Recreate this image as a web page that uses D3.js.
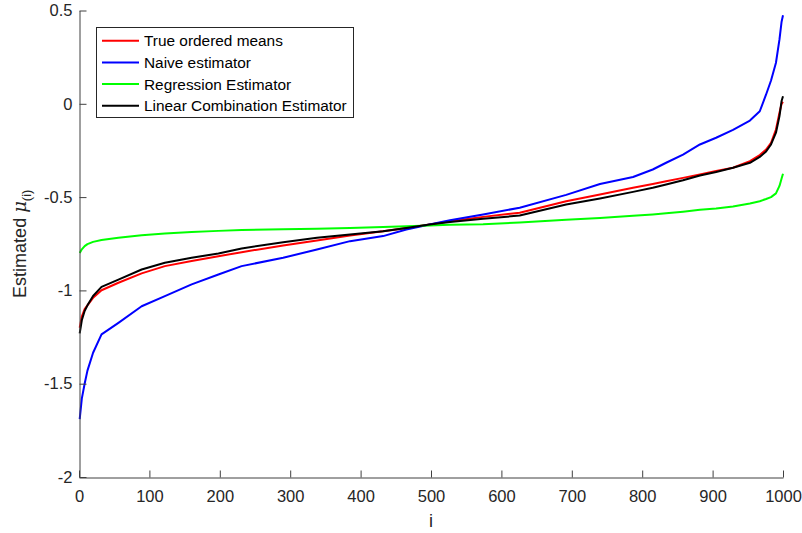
<!DOCTYPE html>
<html>
<head>
<meta charset="utf-8">
<script src="https://cdn.jsdelivr.net/npm/d3@7"></script>
<style>
  body { margin: 0; background: #fff; }
  svg { display: block; font-family: "Liberation Sans", Arial, sans-serif; }
</style>
</head>
<body>
<svg width="802" height="533"></svg>
<script>
// sample positions along i (shared by all series)
const idx = [1, 4, 8, 12, 20, 32, 56, 89, 122, 160, 198, 231, 290, 338, 385, 432, 465, 498, 527,
  574, 626, 692, 740, 787, 815, 834, 858, 882, 905, 929, 953, 967, 976, 983, 990, 995, 998, 1000];

const trueMeans = [-1.20, -1.14, -1.10, -1.08, -1.04, -0.999, -0.959, -0.909, -0.870, -0.843, -0.817,
  -0.795, -0.759, -0.733, -0.706, -0.683, -0.665, -0.647, -0.629, -0.606, -0.584, -0.522, -0.486,
  -0.450, -0.430, -0.415, -0.397, -0.379, -0.360, -0.343, -0.307, -0.275, -0.245, -0.209, -0.138,
  -0.048, 0.0, 0.01];
const naive = [-1.69, -1.58, -1.50, -1.43, -1.334, -1.236, -1.174, -1.085, -1.031, -0.968, -0.915,
  -0.870, -0.825, -0.781, -0.736, -0.709, -0.674, -0.647, -0.624, -0.593, -0.557, -0.488, -0.430,
  -0.392, -0.352, -0.316, -0.272, -0.218, -0.182, -0.140, -0.090, -0.040, 0.05, 0.125, 0.22,
  0.345, 0.44, 0.475];
const regression = [-0.80, -0.78, -0.763, -0.752, -0.740, -0.730, -0.718, -0.704, -0.695, -0.687,
  -0.681, -0.676, -0.672, -0.669, -0.665, -0.660, -0.656, -0.652, -0.648, -0.645, -0.636, -0.622,
  -0.612, -0.600, -0.593, -0.587, -0.578, -0.568, -0.561, -0.550, -0.534, -0.522, -0.510, -0.500,
  -0.480, -0.44, -0.40, -0.375];
const linComb = [-1.23, -1.16, -1.11, -1.08, -1.03, -0.981, -0.942, -0.888, -0.852, -0.825, -0.802,
  -0.775, -0.742, -0.718, -0.700, -0.683, -0.665, -0.647, -0.634, -0.616, -0.599, -0.540, -0.507,
  -0.472, -0.450, -0.432, -0.410, -0.384, -0.365, -0.343, -0.316, -0.285, -0.255, -0.218, -0.155,
  -0.066, 0.015, 0.04];

const seriesNames = ["True ordered means", "Naive estimator", "Regression Estimator", "Linear Combination Estimator"];
const seriesColors = ["#ff0000", "#0000ff", "#00ff00", "#000000"];
const seriesValues = [trueMeans, naive, regression, linComb];

const xTicks = d3.range(0, 1001, 100);
const yTicks = [-2, -1.5, -1, -0.5, 0, 0.5];

const svg = d3.select("svg");
const x = d3.scaleLinear().domain([0, 1000]).range([79, 783]);
const y = d3.scaleLinear().domain([-2, 0.5]).range([477, 10.5]);
const axisColor = "#404040";

// lines
const line = d3.line()
  .x((d, i) => x(idx[i]))
  .y(d => y(d));

svg.append("g")
  .selectAll("path")
  .data(seriesValues)
  .enter()
  .append("path")
  .attr("d", d => line(d))
  .attr("fill", "none")
  .attr("stroke", (d, i) => seriesColors[i])
  .attr("stroke-width", 2)
  .attr("stroke-linejoin", "round");

// axes, ticks pointing inward like matlab
const xAxis = svg.append("g")
  .attr("transform", "translate(0,477.5)")
  .call(d3.axisBottom(x).tickValues(xTicks).tickFormat(d3.format("d"))
    .tickSizeInner(-7).tickSizeOuter(0).tickPadding(13));

const yAxis = svg.append("g")
  .attr("transform", "translate(79.5,0)")
  .call(d3.axisLeft(y).tickValues(yTicks).tickFormat(d => String(d))
    .tickSizeInner(-7).tickSizeOuter(0).tickPadding(7));

[xAxis, yAxis].forEach(function(g) {
  g.select(".domain").attr("stroke", axisColor);
  g.selectAll(".tick line").attr("stroke", axisColor);
  g.selectAll(".tick text").attr("fill", "#262626").attr("font-size", 16.5)
    .attr("font-family", "'Liberation Sans', Arial, sans-serif");
});

// axis labels
svg.append("text")
  .attr("x", x(500))
  .attr("y", 527)
  .attr("text-anchor", "middle")
  .attr("font-size", 18)
  .attr("fill", "#262626")
  .text("i");

const ylab = svg.append("text")
  .attr("transform", `translate(26,${(y(-2) + y(0.5)) / 2}) rotate(-90)`)
  .attr("text-anchor", "middle")
  .attr("font-size", 18)
  .attr("fill", "#262626");
ylab.append("tspan").text("Estimated ");
ylab.append("tspan").attr("font-style", "italic").attr("font-family", "'DejaVu Serif', serif").text("\u03bc");
ylab.append("tspan").attr("font-size", 13).attr("dy", 5).text("(i)");

// legend
const legend = svg.append("g");
legend.append("rect")
  .attr("x", 96.5).attr("y", 27.5)
  .attr("width", 257).attr("height", 90)
  .attr("fill", "#fff")
  .attr("stroke", "#262626")
  .attr("stroke-width", 1);

const rows = legend.selectAll("g.row")
  .data(seriesNames)
  .enter()
  .append("g")
  .attr("class", "row")
  .attr("transform", (d, i) => `translate(0,${40.7 + i * 21.7})`);

rows.append("line")
  .attr("x1", 102).attr("x2", 139)
  .attr("stroke", (d, i) => seriesColors[i])
  .attr("stroke-width", 2);

rows.append("text")
  .attr("x", 144)
  .attr("dy", "0.36em")
  .attr("font-size", 15.4)
  .attr("fill", "#000")
  .text(d => d);
</script>
</body>
</html>
